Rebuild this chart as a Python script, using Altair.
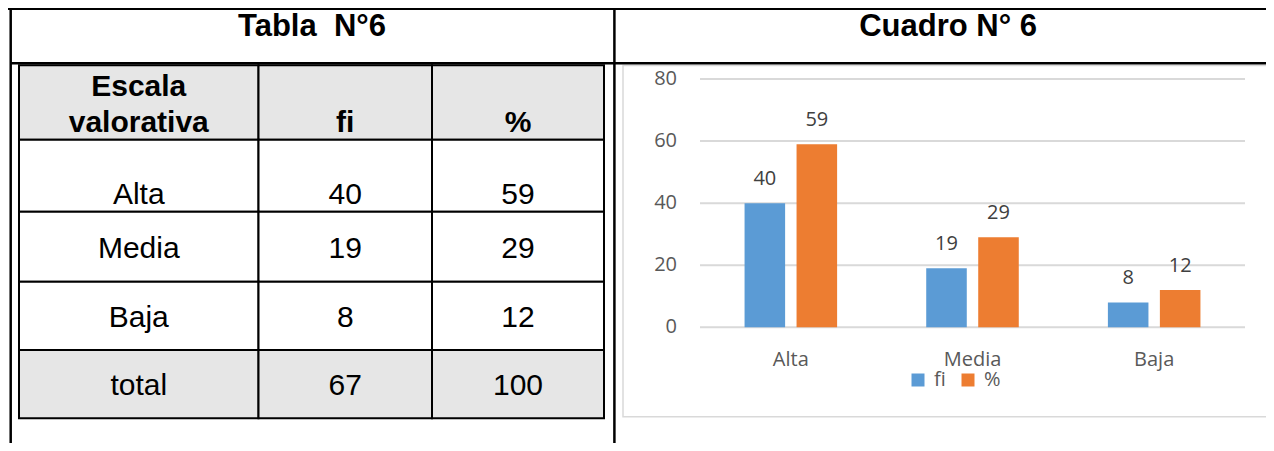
import altair as alt
import pandas as pd

# ---------------- data ----------------
CATEGORIES = ["Alta", "Media", "Baja"]
FI = [40, 19, 8]
PCT = [59, 29, 12]
TOTAL_LABEL = "total"
TOTALS = [67, 100]
HEADERS = ["Escala valorativa", "fi", "%"]
SERIES = ["fi", "%"]
Y_TICKS = [0, 20, 40, 60, 80]
TABLE_TITLE = "Tabla\u00a0\u00a0N°6"
CHART_TITLE = "Cuadro N° 6"

# ---------------- layout / style ----------------
W, H = 1258, 435
COL_W = [239.5, 173.5, 172]
ROW_H = [74.4, 72, 70, 68.3, 68.3]
TABLE_X = [11, 596]
TABLE_Y = [57.3, 410.3]
VALIGN = ["bottom", "bottom", "middle", "middle", "middle"]
SHADED = [True, False, False, False, True]
LINE_H = 36
FONT_T = "Liberation Sans"
FONT_C = "Open Sans"
BLUE, ORANGE = "#5b9bd5", "#ed7d31"
GRAY_FILL = "#e6e6e6"
GRID = "#d9d9d9"
AXIS_GRAY = "#595959"

# ---------------- table cells ----------------
rows = [HEADERS] + [[c, str(f), str(p)] for c, f, p in zip(CATEGORIES, FI, PCT)] \
       + [[TOTAL_LABEL] + [str(t) for t in TOTALS]]
col_edges = [0.0]
for w in COL_W:
    col_edges.append(col_edges[-1] + w)
row_edges = [0.0]
for h in ROW_H:
    row_edges.append(row_edges[-1] + h)

cells = []
for r, row in enumerate(rows):
    y0, y1 = row_edges[r], row_edges[r + 1]
    for c, txt in enumerate(row):
        x0, x1 = col_edges[c], col_edges[c + 1]
        n = len(txt.split(" ")) if r == 0 else 1
        if VALIGN[r] == "bottom":
            ty = y1 - 7.7 - (n - 1) * LINE_H
        else:
            ty = (y0 + y1) / 2 + 10.8
        cells.append(dict(row=r, col=c, x0=x0, x1=x1, xc=(x0 + x1) / 2,
                          y0=y0, y1=y1, ty=ty, text=txt, shaded=SHADED[r]))
cells_df = pd.DataFrame(cells)

tx = alt.Scale(domain=[0, sum(COL_W)], range=TABLE_X, nice=False, zero=False)
tys = alt.Scale(domain=[0, sum(ROW_H)], range=TABLE_Y, nice=False, zero=False)

one = pd.DataFrame({"k": [0]})

def hrule(y, x1, x2, color="black", width=2.5):
    return alt.Chart(one).mark_rule(color=color, strokeWidth=width).encode(
        x=alt.value(x1), x2=alt.value(x2), y=alt.value(y))

def vrule(x, y1, y2, color="black", width=2.5):
    return alt.Chart(one).mark_rule(color=color, strokeWidth=width).encode(
        x=alt.value(x), y=alt.value(y1), y2=alt.value(y2))

chart_box = alt.Chart(one).mark_rect(fill="white", stroke=GRID, strokeWidth=1.5).encode(
    x=alt.value(615), x2=alt.value(1275), y=alt.value(57.5), y2=alt.value(408.7))

frame = [
    hrule(1, 0, W, width=2),
    hrule(55.2, 2.7, W),
    vrule(2.7, 0, H),
    vrule(606.4, 0, H),
]

titles = [
    alt.Chart(one).mark_text(text=TABLE_TITLE, font=FONT_T, fontSize=31, fontWeight="bold",
                             baseline="alphabetic", align="center", color="black").encode(
        x=alt.value(304), y=alt.value(28)),
    alt.Chart(one).mark_text(text=CHART_TITLE, font=FONT_T, fontSize=31, fontWeight="bold",
                             baseline="alphabetic", align="center", color="black").encode(
        x=alt.value(940), y=alt.value(28)),
]

cell_rects = alt.Chart(cells_df).mark_rect(stroke="black", strokeWidth=2).encode(
    x=alt.X("x0:Q", scale=tx, axis=None), x2="x1:Q",
    y=alt.Y("y0:Q", scale=tys, axis=None), y2="y1:Q",
    fill=alt.condition("datum.shaded", alt.value(GRAY_FILL), alt.value("white")),
)

hdr_text = alt.Chart(cells_df).transform_filter("datum.row == 0").mark_text(
    font=FONT_T, fontSize=30, fontWeight="bold", baseline="alphabetic",
    lineBreak=" ", lineHeight=LINE_H, color="black").encode(
    x=alt.X("xc:Q", scale=tx, axis=None),
    y=alt.Y("ty:Q", scale=tys, axis=None),
    text="text:N")

body_text = alt.Chart(cells_df).transform_filter("datum.row > 0").mark_text(
    font=FONT_T, fontSize=30, baseline="alphabetic", color="black").encode(
    x=alt.X("xc:Q", scale=tx, axis=None),
    y=alt.Y("ty:Q", scale=tys, axis=None),
    text="text:N")

# ---------------- bar chart ----------------
bar_df = pd.DataFrame(
    [dict(cat=c, series="fi", value=v) for c, v in zip(CATEGORIES, FI)]
    + [dict(cat=c, series="%", value=v) for c, v in zip(CATEGORIES, PCT)]
)
tick_df = pd.DataFrame({"v": Y_TICKS})
cat_df = pd.DataFrame({"cat": CATEGORIES})

xs = alt.Scale(domain=CATEGORIES, range=[692, 1237], paddingInner=0, paddingOuter=0)
xos = alt.Scale(domain=SERIES, paddingInner=0.22, paddingOuter=0.857)
ys = alt.Scale(domain=[0, 80], range=[319.3, 71], nice=False, zero=True)

grid = alt.Chart(tick_df).mark_rule(color=GRID, strokeWidth=2).encode(
    y=alt.Y("v:Q", scale=ys, axis=None),
    x=alt.value(692), x2=alt.value(1237))

y_labels = alt.Chart(tick_df).mark_text(font=FONT_C, fontSize=20, color=AXIS_GRAY,
                                        align="right", baseline="middle").encode(
    y=alt.Y("v:Q", scale=ys, axis=None),
    x=alt.value(669),
    text="v:Q")

bars = alt.Chart(bar_df).mark_bar().encode(
    x=alt.X("cat:N", sort=CATEGORIES, scale=xs, axis=None),
    xOffset=alt.XOffset("series:N", sort=SERIES, scale=xos),
    y=alt.Y("value:Q", scale=ys, axis=None),
    color=alt.Color("series:N", sort=SERIES, scale=alt.Scale(domain=SERIES, range=[BLUE, ORANGE]),
                    legend=alt.Legend(orient="none", legendX=900, legendY=362, direction="horizontal",
                                      title=None, symbolType="square", symbolSize=169,
                                      symbolStrokeWidth=0, labelFont=FONT_C, labelFontSize=20,
                                      labelColor=AXIS_GRAY, labelOffset=6, columnPadding=12,
                                      padding=0)),
)

x_labels = alt.Chart(cat_df).mark_text(font=FONT_C, fontSize=20, color=AXIS_GRAY,
                                       baseline="alphabetic", align="center").encode(
    x=alt.X("cat:N", sort=CATEGORIES, scale=xs, axis=None),
    y=alt.value(358),
    text="cat:N")

labels = alt.Chart(bar_df).mark_text(font=FONT_C, fontSize=20, color="#404040",
                                     baseline="alphabetic", dy=-18).encode(
    x=alt.X("cat:N", sort=CATEGORIES, scale=xs, axis=None),
    xOffset=alt.XOffset("series:N", sort=SERIES, scale=xos),
    y=alt.Y("value:Q", scale=ys, axis=None),
    text="value:Q")

bar_layer = alt.layer(grid, y_labels, bars, labels, x_labels)

chart = alt.layer(
    chart_box, *frame, *titles, cell_rects, hdr_text, body_text, bar_layer
).resolve_scale(x="independent", y="independent").properties(
    width=W, height=H, padding=0, autosize=alt.AutoSizeParams(type="none")
).configure_view(stroke=None)

chart.save("out.html", embed_options={"renderer": "svg", "actions": False})
